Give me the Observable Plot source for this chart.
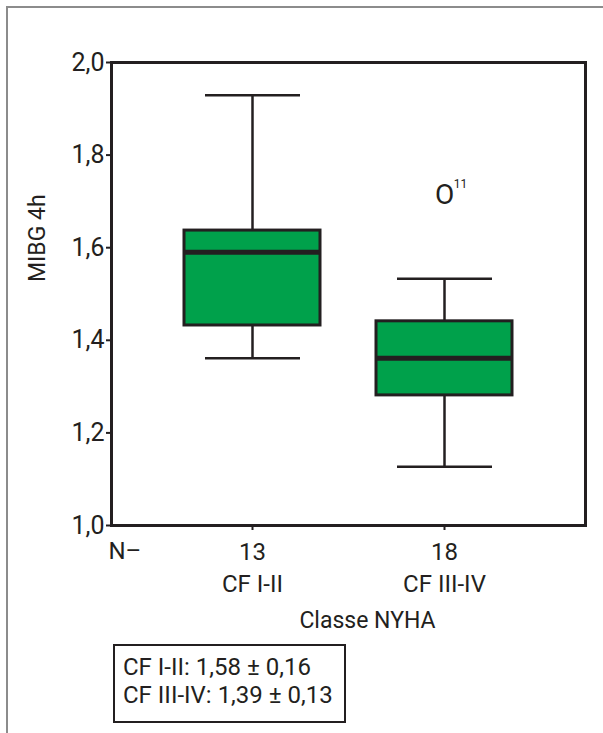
<!DOCTYPE html>
<html>
<head>
<meta charset="utf-8">
<script src="https://cdn.jsdelivr.net/npm/d3@7"></script>
<script src="https://cdn.jsdelivr.net/npm/@observablehq/plot@0.6"></script>
<style>
  html, body { margin: 0; padding: 0; background: #fff; }
  body { width: 603px; height: 733px; position: relative; overflow: hidden; font-family: Roboto, "Liberation Sans", sans-serif; }
  #border { position: absolute; left: 6px; top: 6px; width: 700px; height: 800px; border-left: 2px solid #8c8c8c; border-top: 2px solid #8c8c8c; }
  #chart { position: absolute; left: 0; top: 0; }
  #stats { position: absolute; left: 113px; top: 644px; width: 233px; height: 79px; box-sizing: border-box;
           border: 2.5px solid #231f20; padding: 7px 0 0 8px; font-size: 24px; line-height: 28px; color: #231f20; white-space: nowrap; }
</style>
</head>
<body>
<div id="border"></div>
<div id="chart"></div>
<div id="stats"></div>
<script>
// ---- data ----
const groups      = ["CF I-II", "CF III-IV"];
const counts      = [13, 18];
const whiskerLow  = [1.361, 1.127];
const q1          = [1.432, 1.281];
const median      = [1.590, 1.361];
const q3          = [1.637, 1.441];
const whiskerHigh = [1.929, 1.533];
const outlierGroup = ["CF III-IV"];
const outlierValue = [1.713];
const outlierCase  = ["11"];
const yTicks = [1.0, 1.2, 1.4, 1.6, 1.8, 2.0];
const means = [1.58, 1.39];
const sds   = [0.16, 0.13];

const ink = "#231f20";
const green = "#00a14b";
const comma = (v, n) => v.toFixed(n).replace(".", ",");

const boxes = groups.map((g, i) => ({
  group: g, lo: whiskerLow[i], q1: q1[i], med: median[i], q3: q3[i], hi: whiskerHigh[i]
}));
const outliers = outlierGroup.map((g, i) => ({group: g, value: outlierValue[i], label: outlierCase[i]}));

const chart = Plot.plot({
  width: 603,
  height: 640,
  marginLeft: 111,
  marginRight: 18,
  marginTop: 62,
  marginBottom: 115,
  style: {fontFamily: "Roboto, 'Liberation Sans', sans-serif", fontSize: "24px", color: ink, background: "transparent"},
  x: {type: "band", domain: groups, paddingInner: 0.29, paddingOuter: 0.373, axis: null},
  y: {domain: [1.0, 2.0], axis: null},
  marks: [
    Plot.ruleX(boxes, {x: "group", y1: "lo", y2: "hi", stroke: ink, strokeWidth: 2.5}),
    Plot.tickY(boxes, {x: "group", y: "lo", stroke: ink, strokeWidth: 2.5, insetLeft: 21, insetRight: 20}),
    Plot.tickY(boxes, {x: "group", y: "hi", stroke: ink, strokeWidth: 2.5, insetLeft: 21, insetRight: 20}),
    Plot.barY(boxes, {x: "group", y1: "q1", y2: "q3", fill: green, stroke: ink, strokeWidth: 3}),
    Plot.tickY(boxes, {x: "group", y: "med", stroke: ink, strokeWidth: 5}),
    Plot.text(outliers, {x: "group", y: "value", text: () => "O", fontSize: 28, fill: ink}),
    Plot.text(outliers, {x: "group", y: "value", text: "label", fontSize: 12, fill: ink, dx: 16, dy: -11}),
    Plot.frame({stroke: ink, strokeWidth: 3}),
    Plot.axisY({ticks: yTicks, tickFormat: d => comma(d, 1), tickSize: 5, tickPadding: 2, fontSize: 25, label: null, stroke: ink, strokeWidth: 2}),
    Plot.axisX({tickFormat: (d) => counts[groups.indexOf(d)] + "\n" + d, tickSize: 5, tickPadding: 7, fontSize: 24, lineHeight: 1.34, label: null, stroke: ink, strokeWidth: 2}),
    Plot.text(["N–"], {frameAnchor: "bottom-left", text: d => d, textAnchor: "start", lineAnchor: "middle", dx: -3, dy: 26, fontSize: 24, fill: ink}),
    Plot.text(["Classe NYHA"], {frameAnchor: "bottom", text: d => d, lineAnchor: "middle", dx: 19, dy: 95, fontSize: 23, fill: ink}),
    Plot.text(["MIBG 4h"], {frameAnchor: "left", text: d => d, rotate: -90, lineAnchor: "middle", dx: -74, dy: -12, fontSize: 23, fill: ink})
  ]
});
document.getElementById("chart").append(chart);

document.getElementById("stats").innerHTML = groups
  .map((g, i) => `${g}: ${comma(means[i], 2)} ± ${comma(sds[i], 2)}`)
  .join("<br>");
</script>
</body>
</html>
